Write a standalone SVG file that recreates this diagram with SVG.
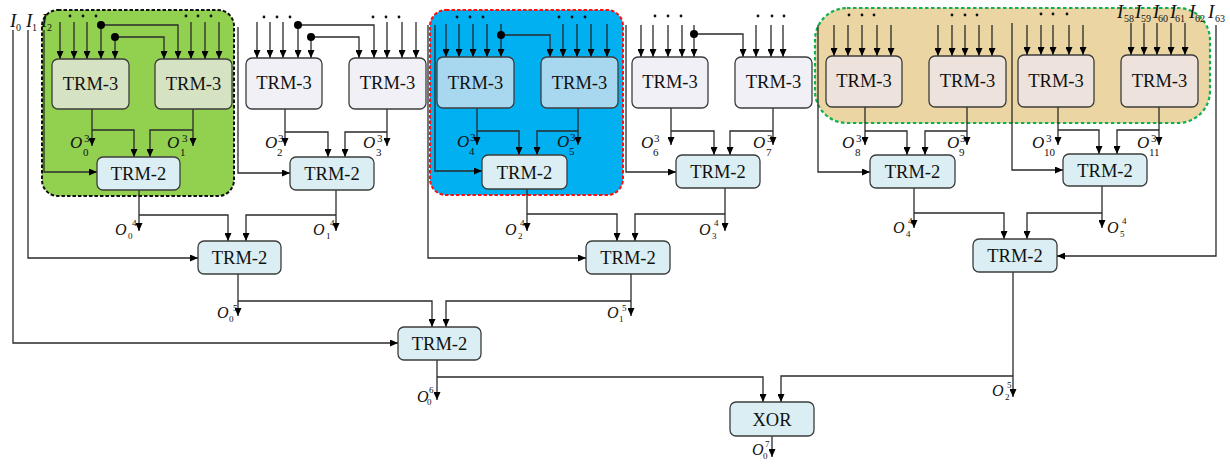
<svg xmlns="http://www.w3.org/2000/svg" width="1230" height="464" viewBox="0 0 1230 464">
<defs>
<marker id="ah" viewBox="0 0 8 7" refX="8" refY="3.5" markerWidth="8" markerHeight="7" markerUnits="userSpaceOnUse" orient="auto">
<path d="M0,0 L8,3.5 L0,7 z" fill="#000"/>
</marker>
<style>
.c{fill:none;stroke:#2a2a2a;stroke-width:1.3;marker-end:url(#ah)}
.n{fill:none;stroke:#2a2a2a;stroke-width:1.3}
.bx{stroke:#3c3c3c;stroke-width:1.3}
.g3{fill:#d6e3c2}.l3{fill:#f2f0f7}.b3{fill:#a8d8f0}.t3{fill:#ede3dc}.t2{fill:#daeef3}
.tt{font-family:"Liberation Serif","Times New Roman",serif;font-size:18.5px;text-anchor:middle;fill:#111}
.o{font-family:"Liberation Serif","Times New Roman",serif;font-style:italic;fill:#111}
.s{font-family:"Liberation Serif","Times New Roman",serif;fill:#111}
.O3{font-size:17px}.S3{font-size:11px}.O4{font-size:16px}.S4{font-size:9px}.I{font-size:19px}.SI{font-size:10px}
.jd{fill:#000}.sd{fill:#111}
</style>
</defs>

<!-- regions -->
<g id="region-green"><rect x="42" y="10" width="192" height="186" rx="16" fill="#92d050" stroke="#111" stroke-width="2" stroke-dasharray="3.5 2"/></g>
<g id="region-blue"><rect x="430" y="10" width="193" height="185" rx="16" fill="#00b0f0" stroke="#ff1010" stroke-width="2" stroke-dasharray="3.5 2"/></g>
<g id="region-tan"><rect x="815" y="8" width="395" height="115" rx="32" fill="#ebd5a3" stroke="#10b050" stroke-width="2.2" stroke-dasharray="3.5 2.5"/></g>

<!-- connectors -->
<g id="connectors">
<!-- green group -->
<path class="c" d="M60,22V59"/><path class="c" d="M74,22V59"/><path class="c" d="M87,22V59"/><path class="c" d="M101,22V59"/><path class="c" d="M115,37V59"/>
<path class="c" d="M101,25H178V59"/><path class="c" d="M115,37H164V59"/>
<path class="c" d="M191,22V59"/><path class="c" d="M205,22V59"/><path class="c" d="M219,22V59"/>
<path class="c" d="M92,109V146"/><path class="c" d="M92,130H134V157"/>
<path class="c" d="M193,109V146"/><path class="c" d="M193,130H150V157"/>
<path class="c" d="M44,30V172H97"/>
<!-- middle group -->
<path class="c" d="M257,22V58"/><path class="c" d="M270,22V58"/><path class="c" d="M283,22V58"/><path class="c" d="M298,22V58"/><path class="c" d="M311,37V58"/>
<path class="c" d="M298,25H374V58"/><path class="c" d="M311,37H359V58"/>
<path class="c" d="M387,22V58"/><path class="c" d="M402,22V58"/><path class="c" d="M416,22V58"/>
<path class="c" d="M285,109V146"/><path class="c" d="M285,132H328V157"/>
<path class="c" d="M387,109V146"/><path class="c" d="M387,132H345V157"/>
<path class="c" d="M238,27V173H290"/>
<!-- blue group -->
<path class="c" d="M446,24V57"/><path class="c" d="M459,24V57"/><path class="c" d="M473,24V57"/><path class="c" d="M487,24V57"/><path class="c" d="M501,24V57"/>
<path class="c" d="M501,35H550V57"/>
<path class="c" d="M563,24V57"/><path class="c" d="M577,24V57"/><path class="c" d="M591,24V57"/><path class="c" d="M607,24V57"/>
<path class="c" d="M477,108V145"/><path class="c" d="M477,131H519V155"/>
<path class="c" d="M578,108V145"/><path class="c" d="M578,131H537V155"/>
<path class="c" d="M435,25V171H482"/>
<path class="c" d="M428,25V258H586"/>
<!-- group 5 -->
<path class="c" d="M641,25V57"/><path class="c" d="M653,25V57"/><path class="c" d="M668,25V57"/><path class="c" d="M682,25V57"/><path class="c" d="M694,25V57"/>
<path class="c" d="M694,34H743V57"/>
<path class="c" d="M756,25V57"/><path class="c" d="M771,25V57"/><path class="c" d="M783,25V57"/>
<path class="c" d="M671,108V145"/><path class="c" d="M671,131H714V155"/>
<path class="c" d="M773,108V145"/><path class="c" d="M773,131H730V155"/>
<path class="c" d="M626,25V172H676"/>
<!-- tan group -->
<path class="c" d="M834,25V56"/><path class="c" d="M848,25V56"/><path class="c" d="M862,25V56"/><path class="c" d="M877,25V56"/><path class="c" d="M891,25V56"/>
<path class="c" d="M938,25V56"/><path class="c" d="M952,25V56"/><path class="c" d="M965,25V56"/><path class="c" d="M979,25V56"/><path class="c" d="M992,25V56"/>
<path class="c" d="M1027,25V55"/><path class="c" d="M1041,25V55"/><path class="c" d="M1053,25V55"/><path class="c" d="M1069,25V55"/><path class="c" d="M1083,25V55"/>
<path class="c" d="M1131,23V55"/><path class="c" d="M1144,23V55"/><path class="c" d="M1157,23V55"/><path class="c" d="M1171,23V55"/><path class="c" d="M1185,23V55"/>
<path class="c" d="M865,107V145"/><path class="c" d="M865,131H907V155"/>
<path class="c" d="M967,107V145"/><path class="c" d="M967,131H925V155"/>
<path class="c" d="M1058,107V145"/><path class="c" d="M1058,130H1099V154"/>
<path class="c" d="M1159,107V145"/><path class="c" d="M1159,130H1117V154"/>
<path class="c" d="M818,25V172H870"/>
<path class="c" d="M1012,23V170H1063"/>
<path class="c" d="M1216,25V256H1057"/>
<!-- level 4 -->
<path class="c" d="M139,190V231"/><path class="c" d="M139,215H228V241"/>
<path class="c" d="M336,190V231"/><path class="c" d="M336,215H246V241"/>
<path class="c" d="M527,189V231"/><path class="c" d="M527,214H617V241"/>
<path class="c" d="M725,188V231"/><path class="c" d="M725,214H635V241"/>
<path class="c" d="M914,188V228"/><path class="c" d="M914,213H1004V239"/>
<path class="c" d="M1102,186V228"/><path class="c" d="M1102,213H1027V239"/>
<!-- level 5 -->
<path class="c" d="M28,30V258H198"/>
<path class="c" d="M238,274V316"/><path class="c" d="M238,301H432V327"/>
<path class="c" d="M631,274V316"/><path class="c" d="M631,301H446V327"/>
<path class="c" d="M13,30V343H398"/>
<!-- level 6 / xor -->
<path class="c" d="M1013,272V397"/><path class="c" d="M1013,376H781V402"/>
<path class="c" d="M437,360V400"/><path class="c" d="M437,377H763V402"/>
<path class="c" d="M772,436V457"/>
<!-- junction dots -->
<circle class="jd" cx="101" cy="25" r="4"/><circle class="jd" cx="115" cy="37" r="4"/>
<circle class="jd" cx="298" cy="25" r="4"/><circle class="jd" cx="311" cy="37" r="4"/>
<circle class="jd" cx="501" cy="35" r="4"/><circle class="jd" cx="694" cy="34" r="4"/>
<!-- ellipsis dots -->
<g class="sd">
<circle cx="70" cy="16" r="1.4"/><circle cx="83" cy="16" r="1.4"/><circle cx="96" cy="16" r="1.4"/>
<circle cx="186" cy="16" r="1.4"/><circle cx="198" cy="16" r="1.4"/><circle cx="211" cy="16" r="1.4"/>
<circle cx="264" cy="17" r="1.4"/><circle cx="277" cy="17" r="1.4"/><circle cx="290" cy="17" r="1.4"/>
<circle cx="373" cy="17" r="1.4"/><circle cx="386" cy="17" r="1.4"/><circle cx="399" cy="17" r="1.4"/>
<circle cx="457" cy="17" r="1.4"/><circle cx="470" cy="17" r="1.4"/><circle cx="483" cy="17" r="1.4"/>
<circle cx="559" cy="17" r="1.4"/><circle cx="572" cy="17" r="1.4"/><circle cx="585" cy="17" r="1.4"/>
<circle cx="655" cy="16" r="1.4"/><circle cx="668" cy="16" r="1.4"/><circle cx="681" cy="16" r="1.4"/>
<circle cx="758" cy="16" r="1.4"/><circle cx="772" cy="16" r="1.4"/><circle cx="784" cy="16" r="1.4"/>
<circle cx="849" cy="15" r="1.4"/><circle cx="862" cy="15" r="1.4"/><circle cx="874" cy="15" r="1.4"/>
<circle cx="952" cy="15" r="1.4"/><circle cx="965" cy="15" r="1.4"/><circle cx="977" cy="15" r="1.4"/>
<circle cx="1041" cy="14" r="1.4"/><circle cx="1053" cy="14" r="1.4"/><circle cx="1067" cy="14" r="1.4"/>
</g>
</g>

<!-- TRM-3 nodes -->
<g id="trm3-0"><rect class="bx g3" x="52" y="59" width="77" height="50" rx="6"/><text class="tt" x="90.5" y="90">TRM-3</text></g>
<g id="trm3-1"><rect class="bx g3" x="155" y="59" width="77" height="50" rx="6"/><text class="tt" x="193.5" y="90">TRM-3</text></g>
<g id="trm3-2"><rect class="bx l3" x="246" y="58" width="76" height="51" rx="6"/><text class="tt" x="284" y="89">TRM-3</text></g>
<g id="trm3-3"><rect class="bx l3" x="349" y="58" width="77" height="51" rx="6"/><text class="tt" x="387.5" y="89">TRM-3</text></g>
<g id="trm3-4"><rect class="bx b3" x="437" y="57" width="77" height="51" rx="6"/><text class="tt" x="475.5" y="89">TRM-3</text></g>
<g id="trm3-5"><rect class="bx b3" x="541" y="57" width="77" height="51" rx="6"/><text class="tt" x="579.5" y="89">TRM-3</text></g>
<g id="trm3-6"><rect class="bx l3" x="632" y="57" width="76" height="51" rx="6"/><text class="tt" x="670" y="88">TRM-3</text></g>
<g id="trm3-7"><rect class="bx l3" x="735" y="57" width="77" height="51" rx="6"/><text class="tt" x="773.5" y="88">TRM-3</text></g>
<g id="trm3-8"><rect class="bx t3" x="826" y="56" width="76" height="51" rx="6"/><text class="tt" x="864" y="87">TRM-3</text></g>
<g id="trm3-9"><rect class="bx t3" x="929" y="56" width="77" height="51" rx="6"/><text class="tt" x="967.5" y="87">TRM-3</text></g>
<g id="trm3-10"><rect class="bx t3" x="1018" y="55" width="76" height="52" rx="6"/><text class="tt" x="1056" y="87">TRM-3</text></g>
<g id="trm3-11"><rect class="bx t3" x="1121" y="55" width="77" height="52" rx="6"/><text class="tt" x="1159.5" y="87">TRM-3</text></g>

<!-- TRM-2 nodes -->
<g id="trm2-0"><rect class="bx t2" x="97" y="157" width="83" height="33" rx="6"/><text class="tt" x="138.5" y="180">TRM-2</text></g>
<g id="trm2-1"><rect class="bx t2" x="290" y="157" width="84" height="33" rx="6"/><text class="tt" x="332" y="180">TRM-2</text></g>
<g id="trm2-2"><rect class="bx t2" x="482" y="155" width="85" height="34" rx="6"/><text class="tt" x="524.5" y="179">TRM-2</text></g>
<g id="trm2-3"><rect class="bx t2" x="676" y="155" width="84" height="33" rx="6"/><text class="tt" x="718" y="178">TRM-2</text></g>
<g id="trm2-4"><rect class="bx t2" x="870" y="155" width="85" height="33" rx="6"/><text class="tt" x="912.5" y="178">TRM-2</text></g>
<g id="trm2-5"><rect class="bx t2" x="1063" y="154" width="84" height="32" rx="6"/><text class="tt" x="1105" y="177">TRM-2</text></g>
<g id="trm2-6"><rect class="bx t2" x="198" y="241" width="83" height="33" rx="6"/><text class="tt" x="239.5" y="264">TRM-2</text></g>
<g id="trm2-7"><rect class="bx t2" x="586" y="241" width="84" height="33" rx="6"/><text class="tt" x="628" y="264">TRM-2</text></g>
<g id="trm2-8"><rect class="bx t2" x="973" y="239" width="84" height="33" rx="6"/><text class="tt" x="1015" y="262">TRM-2</text></g>
<g id="trm2-9"><rect class="bx t2" x="398" y="327" width="83" height="33" rx="6"/><text class="tt" x="439.5" y="350">TRM-2</text></g>
<g id="xor"><rect class="bx t2" x="730" y="402" width="84" height="34" rx="6"/><text class="tt" x="772" y="426">XOR</text></g>

<!-- input labels -->
<g id="input-labels">
<text class="o I" x="10" y="27">I</text><text class="s SI" x="16" y="31">0</text>
<text class="o I" x="26" y="27">I</text><text class="s SI" x="32" y="31">1</text>
<text class="o I" x="41" y="27">I</text><text class="s SI" x="47" y="31">2</text>
<text class="o I" x="1117" y="18">I</text><text class="s SI" x="1124" y="22">58</text>
<text class="o I" x="1135" y="18">I</text><text class="s SI" x="1141" y="22">59</text>
<text class="o I" x="1153" y="18">I</text><text class="s SI" x="1158" y="22">60</text>
<text class="o I" x="1170" y="18">I</text><text class="s SI" x="1175" y="22">61</text>
<text class="o I" x="1189" y="18">I</text><text class="s SI" x="1195" y="22">62</text>
<text class="o I" x="1208" y="18">I</text><text class="s SI" x="1215" y="22">63</text>
</g>

<!-- output labels -->
<g id="output-labels">
<text class="o O3" x="70" y="148">O</text><text class="s S3" x="84" y="142">3</text><text class="s S3" x="83" y="156">0</text>
<text class="o O3" x="167" y="148">O</text><text class="s S3" x="182" y="142">3</text><text class="s S3" x="180" y="156">1</text>
<text class="o O3" x="265" y="148">O</text><text class="s S3" x="278" y="142">3</text><text class="s S3" x="277" y="156">2</text>
<text class="o O3" x="363" y="148">O</text><text class="s S3" x="377" y="142">3</text><text class="s S3" x="376" y="156">3</text>
<text class="o O3" x="457" y="147">O</text><text class="s S3" x="470" y="141">3</text><text class="s S3" x="469" y="155">4</text>
<text class="o O3" x="557" y="147">O</text><text class="s S3" x="570" y="141">3</text><text class="s S3" x="569" y="155">5</text>
<text class="o O3" x="641" y="148">O</text><text class="s S3" x="654" y="142">3</text><text class="s S3" x="653" y="156">6</text>
<text class="o O3" x="753" y="148">O</text><text class="s S3" x="767" y="142">3</text><text class="s S3" x="766" y="156">7</text>
<text class="o O3" x="842" y="148">O</text><text class="s S3" x="856" y="142">3</text><text class="s S3" x="855" y="156">8</text>
<text class="o O3" x="947" y="148">O</text><text class="s S3" x="960" y="142">3</text><text class="s S3" x="959" y="156">9</text>
<text class="o O3" x="1032" y="148">O</text><text class="s S3" x="1046" y="142">3</text><text class="s S3" x="1044" y="156">10</text>
<text class="o O3" x="1137" y="148">O</text><text class="s S3" x="1151" y="142">3</text><text class="s S3" x="1149" y="156">11</text>

<text class="o O4" x="115" y="235">O</text><text class="s S4" x="132" y="226">4</text><text class="s S4" x="128" y="239">0</text>
<text class="o O4" x="313" y="235">O</text><text class="s S4" x="330" y="226">4</text><text class="s S4" x="326" y="239">1</text>
<text class="o O4" x="505" y="235">O</text><text class="s S4" x="520" y="226">4</text><text class="s S4" x="518" y="239">2</text>
<text class="o O4" x="699" y="235">O</text><text class="s S4" x="714" y="226">4</text><text class="s S4" x="712" y="239">3</text>
<text class="o O4" x="893" y="233">O</text><text class="s S4" x="908" y="224">4</text><text class="s S4" x="906" y="237">4</text>
<text class="o O4" x="1107" y="233">O</text><text class="s S4" x="1122" y="224">4</text><text class="s S4" x="1120" y="237">5</text>

<text class="o O4" x="217" y="318">O</text><text class="s S4" x="233" y="311">5</text><text class="s S4" x="229" y="322">0</text>
<text class="o O4" x="607" y="318">O</text><text class="s S4" x="622" y="311">5</text><text class="s S4" x="619" y="322">1</text>
<text class="o O4" x="992" y="396">O</text><text class="s S4" x="1007" y="388">5</text><text class="s S4" x="1005" y="400">2</text>
<text class="o O4" x="417" y="402">O</text><text class="s S4" x="429" y="393">6</text><text class="s S4" x="427" y="405">0</text>
<text class="o O4" x="752" y="455">O</text><text class="s S4" x="765" y="447">7</text><text class="s S4" x="763" y="459">0</text>
</g>
</svg>
